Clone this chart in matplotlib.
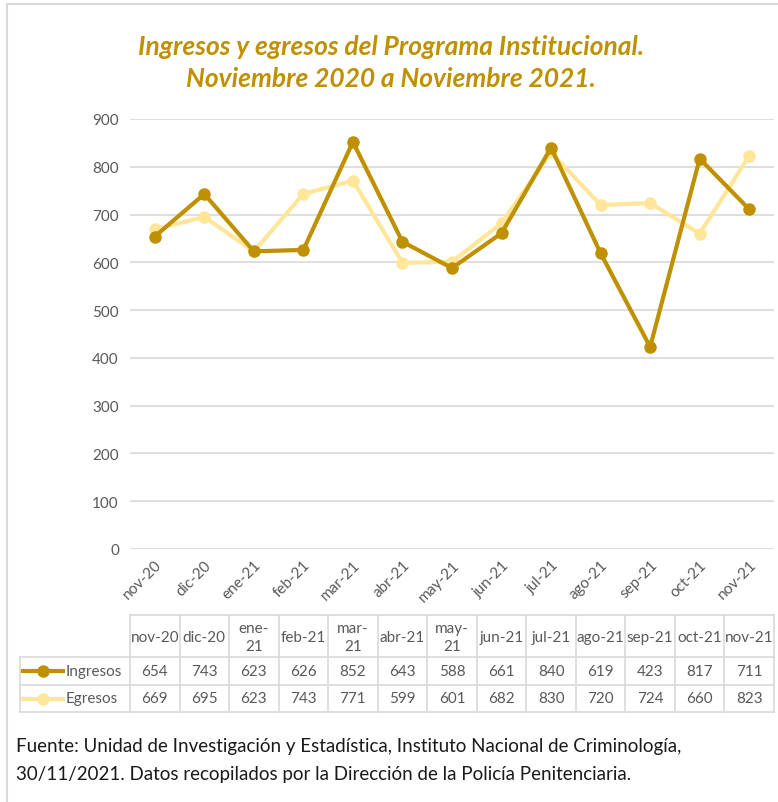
import matplotlib
matplotlib.use("Agg")
import matplotlib.pyplot as plt
from matplotlib.patches import Rectangle
from matplotlib.lines import Line2D

months = ["nov-20", "dic-20", "ene-21", "feb-21", "mar-21", "abr-21", "may-21",
          "jun-21", "jul-21", "ago-21", "sep-21", "oct-21", "nov-21"]
header_labels = ["nov-20", "dic-20", "ene-\n21", "feb-21", "mar-\n21", "abr-21", "may-\n21",
                 "jun-21", "jul-21", "ago-21", "sep-21", "oct-21", "nov-21"]
ingresos = [654, 743, 623, 626, 852, 643, 588, 661, 840, 619, 423, 817, 711]
egresos = [669, 695, 623, 743, 771, 599, 601, 682, 830, 720, 724, 660, 823]
series_names = ["Ingresos", "Egresos"]
yticks = [0, 100, 200, 300, 400, 500, 600, 700, 800, 900]

C_ING = "#BF9000"
C_EGR = "#FFE699"
GRID = "#D9D9D9"
TXT = "#595959"
FONT = ["Lato", "DejaVu Sans"]
plt.rcParams["font.family"] = FONT

W, H = 778, 803
fig = plt.figure(figsize=(W / 100, H / 100), dpi=100)

def px_rect(x0, y0, x1, y1):
    return [x0 / W, 1 - y1 / H, (x1 - x0) / W, (y1 - y0) / H]

# frame
fig.patches.append(Rectangle((7 / W, -0.1), 1.2, 1 - 5 / H + 0.1, transform=fig.transFigure,
                             fill=False, edgecolor="#D9D9D9", linewidth=1.5))

# title
fig.text(391 / W, 1 - 47 / H, "Ingresos y egresos del Programa Institucional.",
         ha="center", va="center", fontsize=19, fontweight="bold", fontstyle="italic", color=C_ING)
fig.text(391 / W, 1 - 79 / H, "Noviembre 2020 a Noviembre 2021.",
         ha="center", va="center", fontsize=19, fontweight="bold", fontstyle="italic", color=C_ING)

# main axes
ax = fig.add_axes(px_rect(130, 120, 774, 550))
x = list(range(len(months)))
ax.plot(x, egresos, color=C_EGR, linewidth=3, marker="o", markersize=8, zorder=3)
ax.plot(x, ingresos, color=C_ING, linewidth=3, marker="o", markersize=8, zorder=4)
ax.set_xlim(-0.5, len(months) - 0.5)
ax.set_ylim(0, 900)
ax.set_yticks(yticks)
ax.set_yticklabels([str(v) for v in yticks], fontsize=11, color=TXT)
ax.set_xticks(x)
ax.set_xticklabels(months, rotation=45, ha="right", rotation_mode="anchor",
                   fontsize=11, color=TXT)
ax.tick_params(axis="both", length=0, pad=8)
ax.tick_params(axis="x", pad=6)
ax.grid(axis="y", color=GRID, linewidth=1.2)
ax.set_axisbelow(True)
for s in ax.spines.values():
    s.set_visible(False)

# data table
tab = fig.add_axes(px_rect(20, 616, 774, 713))
colw = (774 - 130) / len(months)
lab_w = (130 - 20) / colw
tab.set_xlim(-0.5 - lab_w, len(months) - 0.5)
tab.set_ylim(97, 0)
tab.axis("off")
rows_y = [0, 42, 70, 97]
edge = dict(color=GRID, linewidth=1.2, clip_on=False)
xl = -0.5 - lab_w
xr = len(months) - 0.5
tab.plot([-0.5, xr], [0, 0], **edge)
for yy in rows_y[1:]:
    tab.plot([xl, xr], [yy, yy], **edge)
tab.plot([xl, xl], [rows_y[1], rows_y[3]], **edge)
for i in range(len(months) + 1):
    tab.plot([i - 0.5, i - 0.5], [0, 97], **edge)
for i, lab in enumerate(header_labels):
    tab.text(i, (rows_y[0] + rows_y[1]) / 2 + 1, lab, ha="center", va="center",
             fontsize=11, color=TXT, linespacing=1.3)
for r, (name, vals, col) in enumerate(zip(series_names, [ingresos, egresos], [C_ING, C_EGR])):
    yc = (rows_y[r + 1] + rows_y[r + 2]) / 2
    for i, v in enumerate(vals):
        tab.text(i, yc, str(v), ha="center", va="center", fontsize=11, color=TXT)
    lx0 = xl + 0.06
    lx1 = xl + 0.06 + 40 / colw
    tab.add_line(Line2D([lx0, lx1], [yc, yc], color=col, linewidth=3, clip_on=False))
    tab.plot([(lx0 + lx1) / 2], [yc], marker="o", markersize=8, color=col, clip_on=False)
    tab.text(lx1 + 0.06, yc, name, ha="left", va="center", fontsize=11, color=TXT)

# source note
fig.text(16 / W, 1 - 747 / H,
         "Fuente: Unidad de Investigación y Estadística, Instituto Nacional de Criminología,",
         ha="left", va="center", fontsize=13.5, color="#1a1a1a")
fig.text(16 / W, 1 - 775 / H,
         "30/11/2021. Datos recopilados por la Dirección de la Policía Penitenciaria.",
         ha="left", va="center", fontsize=13.5, color="#1a1a1a")

fig.savefig("out.png", dpi=100)
